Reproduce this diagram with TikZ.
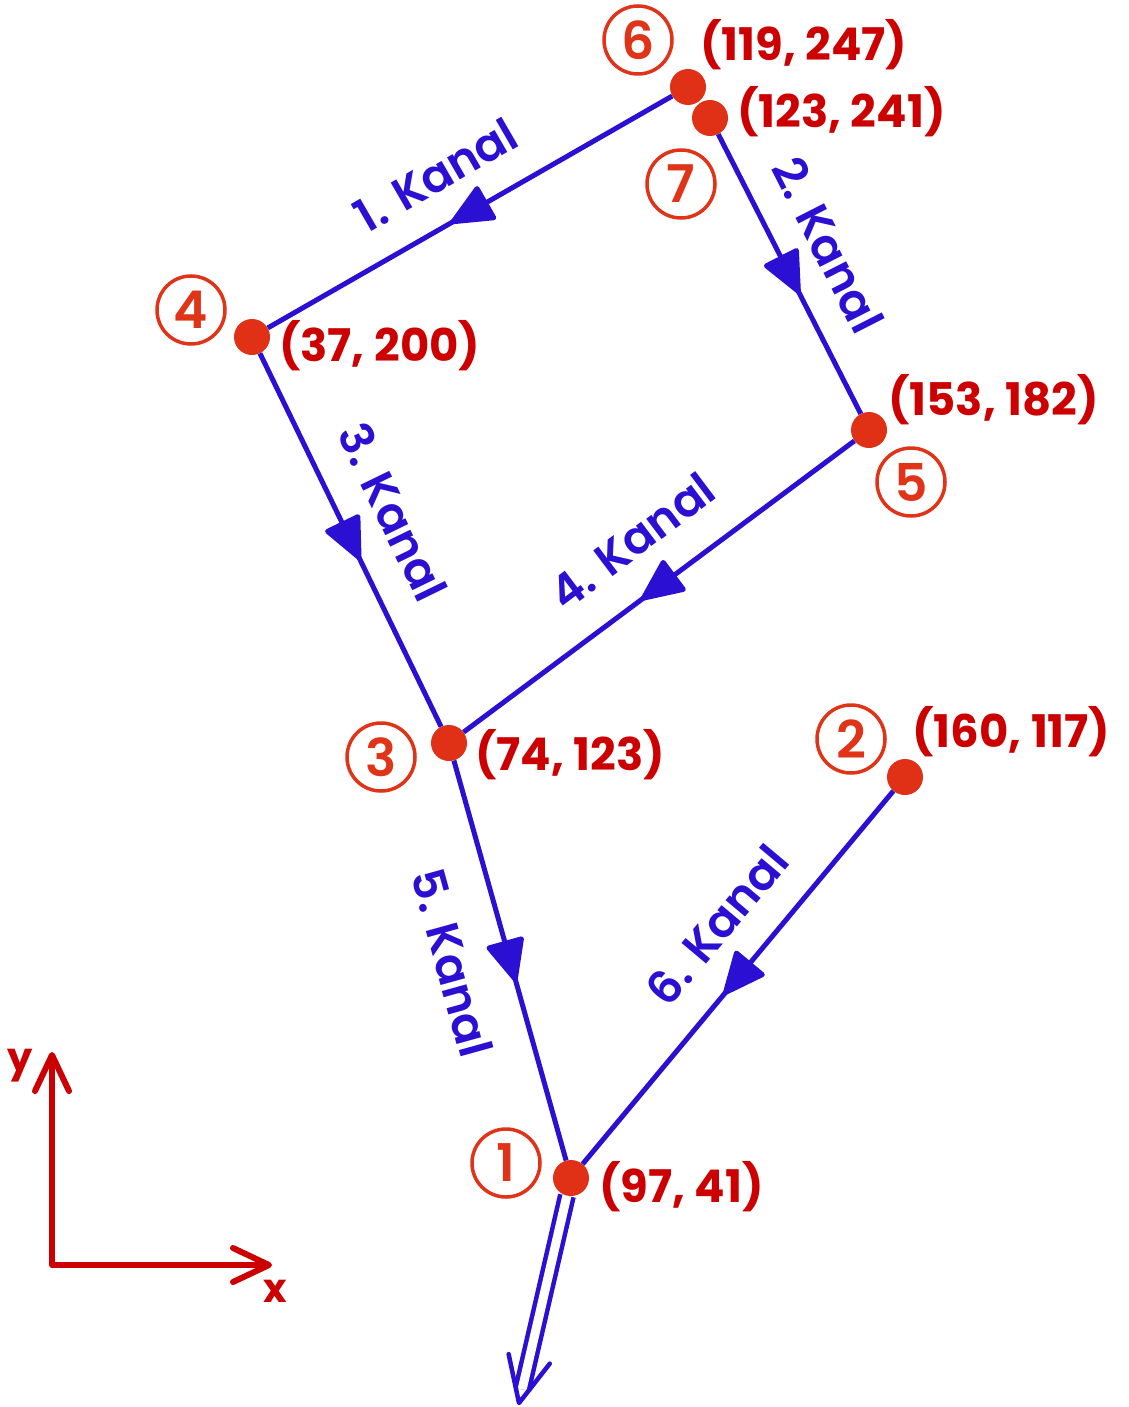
\documentclass[tikz,border=0pt]{standalone}
\usepackage{fontspec}
\setmainfont{Poppins}
\newfontfamily\semib{Poppins SemiBold}
\usetikzlibrary{arrows.meta,decorations.markings,calc}
\definecolor{kblue}{RGB}{43,15,210}
\definecolor{dotred}{RGB}{224,48,22}
\definecolor{cred}{RGB}{224,52,24}
\definecolor{tred}{RGB}{204,0,0}
\begin{document}
\begin{tikzpicture}[x=1pt,y=-1pt,
  dot/.style={circle,fill=dotred,minimum size=36pt,inner sep=0pt},
  circnum/.style={circle,draw=cred,line width=3.5pt,minimum size=68pt,inner sep=0pt,text=cred,font=\fontsize{52}{52}\selectfont\semib},
  coordlbl/.style={anchor=west,inner sep=0pt,text=tred,font=\fontsize{45}{50}\selectfont\bfseries},
  kanallbl/.style={inner sep=0pt,text=kblue,font=\fontsize{46}{50}\selectfont\semib},
  kanal/.style={draw=kblue,color=kblue,line width=5pt,postaction={decorate},
    decoration={markings,mark=at position 0.5 with {\arrow[xshift=22pt]{Triangle[length=46pt,width=40pt,round]}}}},
  axis/.style={draw=tred,line width=6pt,line cap=round,line join=round},
  axlbl/.style={inner sep=0pt,text=tred,font=\fontsize{40}{44}\selectfont\bfseries}]
\useasboundingbox (0,0) rectangle (1128,1407);
% points
\node[dot] (p6) at (688,87) {};
\node[dot] (p7) at (710,118) {};
\node[dot] (p4) at (252,337) {};
\node[dot] (p5) at (869,430) {};
\node[dot] (p3) at (449,743) {};
\node[dot] (p2) at (905,777) {};
\node[dot] (p1) at (571,1178) {};
\coordinate (out) at (519,1403);
% channels
\draw[kanal] (p6) -- (p4);
\draw[kanal] (p7) -- (p5);
\draw[kanal] (p4) -- (p3);
\draw[kanal] (p5) -- (p3);
\draw[kanal] (p3) -- (p1);
\draw[kanal] (p2) -- (p1);
% outlet
\draw[kblue,line width=4.5pt,double=white,double distance=9pt,shorten >=14pt] (p1) -- (out);
\draw[kblue,line width=4.5pt,line cap=round,line join=round]
  ($(out)!50pt!25:(p1)$) -- (out) -- ($(out)!50pt!-25:(p1)$);
% channel labels
\node[kanallbl,rotate=30] (k1) at (436,175) {1. Kanal};
\node[kanallbl,rotate=-63] (k2) at (828,245) {2. Kanal};
\node[kanallbl,rotate=-64] (k3) at (393,512) {3. Kanal};
\node[kanallbl,rotate=37] (k4) at (632,541) {4. Kanal};
\node[kanallbl,rotate=-74.5] (k5) at (452,963) {5. Kanal};
\node[kanallbl,rotate=50] (k6) at (717,925) {6. Kanal};
% circled numbers
\node[circnum] (n6) at (638,40) {6};
\node[circnum] (n7) at (681,184) {7};
\node[circnum] (n4) at (191,310) {4};
\node[circnum] (n5) at (911,482) {5};
\node[circnum] (n3) at (381,757) {3};
\node[circnum] (n2) at (851,739) {2};
\node[circnum] (n1) at (506,1163) {1};
% coordinates
\node[coordlbl] (c6) at (700,45) {(119, 247)};
\node[coordlbl] (c7) at (737,112) {(123, 241)};
\node[coordlbl] (c4) at (279,346) {(37, 200)};
\node[coordlbl] (c5) at (888,400) {(153, 182)};
\node[coordlbl] (c3) at (475,755) {(74, 123)};
\node[coordlbl] (c2) at (912,732) {(160, 117)};
\node[coordlbl] (c1) at (599,1187) {(97, 41)};
% axes
\coordinate (o) at (52,1265);
\coordinate (ya) at (52,1052);
\coordinate (xa) at (272,1265);
\draw[axis,{Straight Barb[length=36pt,width=34pt,round]}-{Straight Barb[length=36pt,width=34pt,round]}] (ya) -- (o) -- (xa);
\node[axlbl] (ly) at (20,1066) {y};
\node[axlbl] (lx) at (275,1291) {x};
\end{tikzpicture}
\end{document}
